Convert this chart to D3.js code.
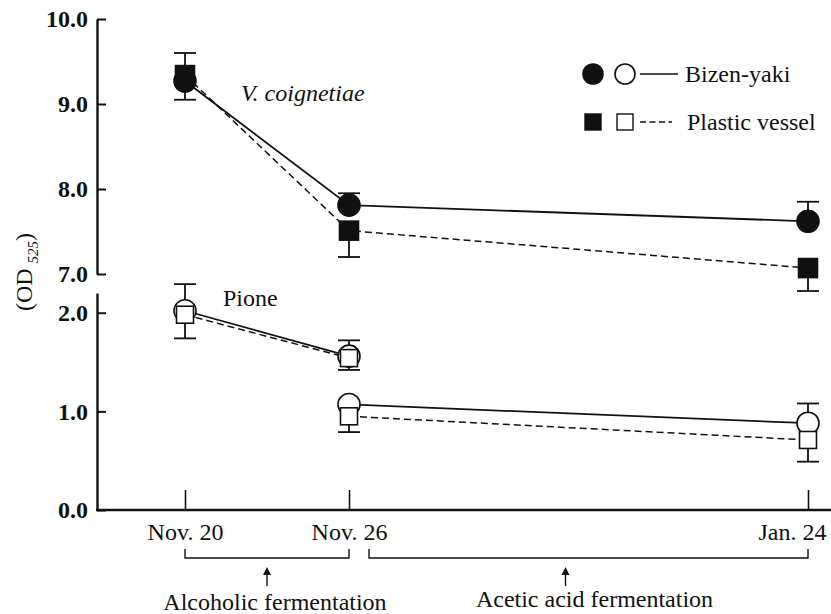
<!DOCTYPE html>
<html>
<head>
<meta charset="utf-8">
<script src="https://cdn.jsdelivr.net/npm/d3@7"></script>
<style>
  body { margin: 0; background: #fff; }
  text { font-family: "Liberation Serif", "Times New Roman", serif; fill: #111; }
</style>
</head>
<body>
<div id="chart"></div>
<script>
// sampling dates and days since Nov. 20
var dates = ["Nov. 20", "Nov. 26", "Jan. 24"];
var dayNums = [0, 6, 65];

// V. coignetiae (upper panel)
var coigBizen = [9.27, 7.81, 7.62];
var coigBizenHi = [9.60, 7.95, 7.85];
var coigPlastic = [9.34, 7.51, 7.07];
var coigPlasticLo = [9.05, 7.20, 6.80];

// Pione (lower panel) - two runs, Nov. 26 measured twice
var pioneRuns = [[0, 6], [6, 65]];
var pioneBizen = [[2.02, 1.56], [1.07, 0.88]];
var pioneBizenHi = [[2.29, 1.72], [null, 1.08]];
var pionePlastic = [[1.98, 1.54], [0.95, 0.71]];
var pionePlasticLo = [[1.74, 1.42], [0.79, 0.49]];

var topTicks = [7, 8, 9, 10];
var bottomTicks = [0, 1, 2];

var width = 831, height = 614;
var axisX = 97, baseY = 510;

var svg = d3.select("#chart")
  .append("svg")
    .attr("width", width)
    .attr("height", height);

var x = d3.scaleLinear().domain(dayNums).range([185, 349, 808]);
var yTop = d3.scaleLinear().domain([7, 10]).range([274, 19]);
var yBot = d3.scaleLinear().domain([0, 2.2]).range([baseY, 293]);

// ---- axes ----
var gTop = svg.append("g")
  .attr("transform", "translate(" + axisX + ",0)")
  .call(d3.axisLeft(yTop).tickValues(topTicks).tickFormat(d3.format(".1f"))
        .tickSizeInner(-9).tickSizeOuter(0).tickPadding(9));
var gBot = svg.append("g")
  .attr("transform", "translate(" + axisX + ",0)")
  .call(d3.axisLeft(yBot).tickValues(bottomTicks).tickFormat(d3.format(".1f"))
        .tickSizeInner(-9).tickSizeOuter(0).tickPadding(9));

[gTop, gBot].forEach(function(g) {
  g.select(".domain").attr("stroke", "#111").attr("stroke-width", 2.4);
  g.selectAll(".tick line").attr("stroke", "#111").attr("stroke-width", 2);
  g.selectAll(".tick text")
    .style("font-family", "Liberation Serif")
    .style("font-size", "24px")
    .style("font-weight", "bold")
    .attr("fill", "#111");
});

// x axis
svg.append("line")
  .attr("x1", axisX - 1).attr("x2", width)
  .attr("y1", baseY).attr("y2", baseY)
  .attr("stroke", "#111").attr("stroke-width", 2.6);

var gX = svg.append("g")
  .attr("transform", "translate(0," + baseY + ")")
  .call(d3.axisBottom(x).tickValues(dayNums)
        .tickFormat(function(d, i) { return dates[i]; })
        .tickSizeInner(-20).tickSizeOuter(0).tickPadding(13));
gX.select(".domain").remove();
gX.selectAll(".tick line").attr("stroke", "#111").attr("stroke-width", 1.6);
gX.selectAll(".tick text")
  .style("font-family", "Liberation Serif")
  .style("font-size", "24px")
  .attr("fill", "#111");
gX.selectAll(".tick text").filter(function(d, i) { return i === 2; })
  .attr("text-anchor", "end").attr("x", 18);

// y label
var yl = svg.append("text")
  .attr("transform", "translate(32,272) rotate(-90)")
  .attr("text-anchor", "middle")
  .style("font-size", "24px");
yl.append("tspan").text("(OD");
yl.append("tspan").attr("dx", 5).attr("dy", 6).style("font-size", "15px")
  .style("font-style", "italic").text("525");
yl.append("tspan").attr("dy", -6).text(")");

// ---- fermentation brackets ----
var brackets = [
  {x1: x(dayNums[0]), x2: x(dayNums[1]), label: "Alcoholic fermentation", ax: 0, tdx: 8, ty: 610},
  {x1: x(dayNums[1]) + 20, x2: x(dayNums[2]), label: "Acetic acid fermentation", ax: -23, tdx: 6, ty: 607}
];
brackets.forEach(function(b) {
  svg.append("path")
    .attr("d", "M" + b.x1 + ",549 V558 H" + b.x2 + " V549")
    .attr("fill", "none").attr("stroke", "#111").attr("stroke-width", 1.4);
  var ax = (b.x1 + b.x2) / 2 + b.ax;
  svg.append("line")
    .attr("x1", ax).attr("x2", ax).attr("y1", 571).attr("y2", 586)
    .attr("stroke", "#111").attr("stroke-width", 1.4);
  svg.append("path")
    .attr("d", "M" + (ax - 4) + ",575 L" + ax + ",567 L" + (ax + 4) + ",575 Z")
    .attr("fill", "#111");
  svg.append("text")
    .attr("x", (b.x1 + b.x2) / 2 + b.tdx).attr("y", b.ty)
    .attr("text-anchor", "middle")
    .style("font-size", "24px")
    .text(b.label);
});

// ---- data ----
var plot = svg.append("g");
var lineGen = d3.line().x(function(p) { return x(p.d); }).y(function(p) { return p.y; });

function makePts(days, vals, errs, yScale) {
  return days.map(function(d, i) {
    return {d: d, y: yScale(vals[i]), e: errs[i] == null ? null : yScale(errs[i])};
  });
}

var topBizen = makePts(dayNums, coigBizen, coigBizenHi, yTop);
var topPlastic = makePts(dayNums, coigPlastic, coigPlasticLo, yTop);
var botBizen = pioneRuns.map(function(r, k) { return makePts(r, pioneBizen[k], pioneBizenHi[k], yBot); });
var botPlastic = pioneRuns.map(function(r, k) { return makePts(r, pionePlastic[k], pionePlasticLo[k], yBot); });

var series = [
  {runs: [topBizen], shape: "circle", filled: true, dash: null, size: 11},
  {runs: [topPlastic], shape: "square", filled: true, dash: "7,4", size: 19},
  {runs: botBizen, shape: "circle", filled: false, dash: null, size: 11},
  {runs: botPlastic, shape: "square", filled: false, dash: "7,4", size: 17}
];

// lines
series.forEach(function(s) {
  s.runs.forEach(function(run) {
    plot.append("path")
      .datum(run)
      .attr("d", lineGen)
      .attr("fill", "none")
      .attr("stroke", "#111")
      .attr("stroke-width", s.dash ? 1.5 : 1.8)
      .attr("stroke-dasharray", s.dash);
  });
});

// error bars
series.forEach(function(s) {
  s.runs.forEach(function(run) {
    run.filter(function(p) { return p.e != null; }).forEach(function(p) {
      var cx = x(p.d);
      plot.append("line").attr("x1", cx).attr("x2", cx).attr("y1", p.y).attr("y2", p.e)
        .attr("stroke", "#111").attr("stroke-width", 1.8);
      plot.append("line").attr("x1", cx - 11).attr("x2", cx + 11).attr("y1", p.e).attr("y2", p.e)
        .attr("stroke", "#111").attr("stroke-width", 1.8);
    });
  });
});

// markers: circles then squares on top
series.forEach(function(s) {
  s.runs.forEach(function(run) {
    if (s.shape === "circle") {
      plot.selectAll(null).data(run).enter().append("circle")
        .attr("cx", function(p) { return x(p.d); })
        .attr("cy", function(p) { return p.y; })
        .attr("r", s.size)
        .attr("fill", s.filled ? "#111" : "#fff")
        .attr("stroke", "#111").attr("stroke-width", 1.6);
    } else {
      plot.selectAll(null).data(run).enter().append("rect")
        .attr("x", function(p) { return x(p.d) - s.size / 2; })
        .attr("y", function(p) { return p.y - s.size / 2; })
        .attr("width", s.size).attr("height", s.size)
        .attr("fill", s.filled ? "#111" : "#fff")
        .attr("stroke", "#111").attr("stroke-width", 1.6);
    }
  });
});

// panel labels
svg.append("text").attr("x", 241).attr("y", 101)
  .style("font-size", "24px").style("font-style", "italic")
  .text("V. coignetiae");
svg.append("text").attr("x", 223).attr("y", 306)
  .style("font-size", "24px")
  .text("Pione");

// ---- legend ----
var legend = svg.append("g");
var legendRows = [
  {label: "Bizen-yaki", shape: "circle", dash: null, y: 74, lineEnd: 678, tx: 685},
  {label: "Plastic vessel", shape: "square", dash: "6,3.5", y: 122, lineEnd: 672, tx: 687}
];
legendRows.forEach(function(r) {
  [true, false].forEach(function(filled, i) {
    var cx = 593 + i * 32;
    if (r.shape === "circle") {
      legend.append("circle").attr("cx", cx).attr("cy", r.y).attr("r", 10)
        .attr("fill", filled ? "#111" : "#fff").attr("stroke", "#111").attr("stroke-width", 1.6);
    } else {
      legend.append("rect").attr("x", cx - 8).attr("y", r.y - 8).attr("width", 16).attr("height", 16)
        .attr("fill", filled ? "#111" : "#fff").attr("stroke", "#111").attr("stroke-width", 1.4);
    }
  });
  legend.append("line").attr("x1", 640).attr("x2", r.lineEnd).attr("y1", r.y).attr("y2", r.y)
    .attr("stroke", "#111").attr("stroke-width", 1.4).attr("stroke-dasharray", r.dash);
  legend.append("text").attr("x", r.tx).attr("y", r.y + 8)
    .style("font-size", "24px").text(r.label);
});
</script>
</body>
</html>
